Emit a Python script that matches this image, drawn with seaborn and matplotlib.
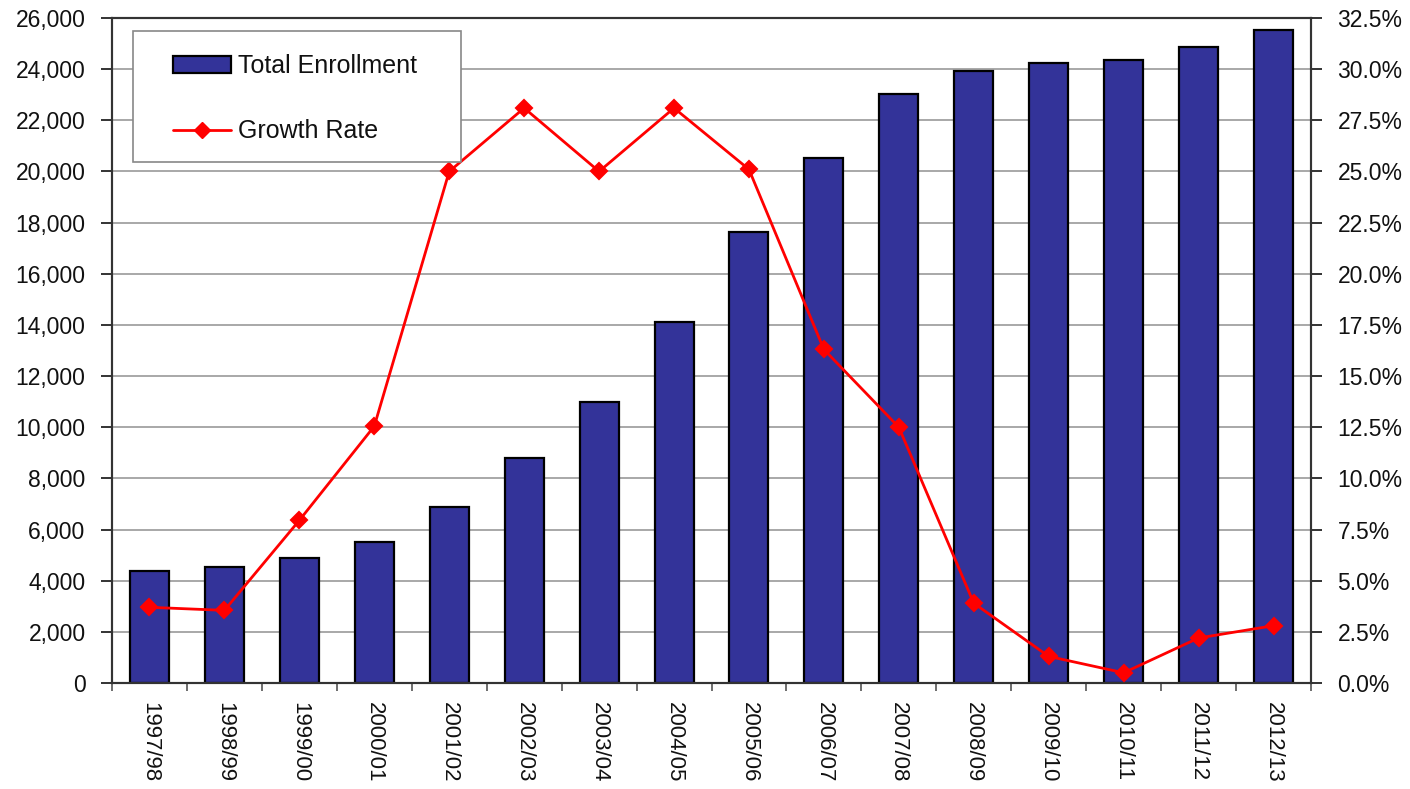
import matplotlib
matplotlib.use("Agg")
import matplotlib.pyplot as plt
import seaborn as sns
import pandas as pd
from matplotlib.ticker import FuncFormatter, MultipleLocator, FixedLocator
from matplotlib.lines import Line2D
from matplotlib.patches import Patch, Rectangle

years = ["1997/98", "1998/99", "1999/00", "2000/01", "2001/02", "2002/03", "2003/04", "2004/05",
         "2005/06", "2006/07", "2007/08", "2008/09", "2009/10", "2010/11", "2011/12", "2012/13"]
enrollment = [4380, 4530, 4900, 5500, 6880, 8800, 11000, 14100,
              17630, 20520, 23030, 23930, 24240, 24360, 24870, 25530]
growth_rate = [3.7, 3.55, 7.95, 12.55, 25.0, 28.1, 25.0, 28.1,
               25.1, 16.3, 12.5, 3.9, 1.3, 0.5, 2.2, 2.8]

sns.set_style("white")
plt.rcParams['font.family'] = ["Liberation Sans", 'DejaVu Sans']

df = pd.DataFrame({"year": years, "enrollment": enrollment, "growth": growth_rate})

W, H = 1410, 789
L, R, T, B = 112, 1311, 18, 683
fig = plt.figure(figsize=(W / 100, H / 100), dpi=100)
ax = fig.add_axes([L / W, 1 - B / H, (R - L) / W, (B - T) / H])

sns.barplot(data=df, x="year", y="enrollment", ax=ax, color="#333399", width=0.52,
            edgecolor="black", linewidth=1.6, saturation=1, zorder=2)
ax.set_ylim(0, 26000)
ax.set_xlim(-0.5, len(years) - 0.5)
ax.yaxis.set_major_locator(MultipleLocator(2000))
ax.yaxis.set_major_formatter(FuncFormatter(lambda v, p: f"{int(v):,}"))
ax.grid(axis="y", color="#999999", linewidth=1.2, zorder=0)
ax.set_axisbelow(True)
ax.set_xlabel("")
ax.set_ylabel("")
ax.set_xticks(range(len(years)))
ax.set_xticklabels(years, rotation=270, fontsize=16, color="#111111")
ax.tick_params(axis="x", length=0, pad=14)
ax.xaxis.set_minor_locator(FixedLocator([i - 0.5 for i in range(len(years) + 1)]))
ax.tick_params(axis="x", which="minor", length=6, width=1.2, direction="out", color="#555555", bottom=True)
ax.tick_params(axis="y", labelsize=16.5, length=8, width=1.2, pad=11, direction="out", left=True,
               colors="#111111")
for s in ax.spines.values():
    s.set_color("#333333")
    s.set_linewidth(1.5)

ax2 = ax.twinx()
sns.pointplot(data=df, x="year", y="growth", ax=ax2, color="#ff0000", markers="D",
              markersize=8, linewidth=2, zorder=3)
ax2.set_ylim(0, 32.5)
ax2.set_xlim(-0.5, len(years) - 0.5)
ax2.yaxis.set_major_locator(MultipleLocator(2.5))
ax2.yaxis.set_major_formatter(FuncFormatter(lambda v, p: f"{v:.1f}%"))
ax2.set_ylabel("")
ax2.set_xlabel("")
ax2.tick_params(axis="y", labelsize=16.5, length=8, width=1.2, pad=11, direction="out", right=True,
                colors="#111111")
for s in ax2.spines.values():
    s.set_color("#333333")
    s.set_linewidth(1.5)

# legend frame box
def ax_frac(px, py):
    return (px - L) / (R - L), 1 - (py - T) / (B - T)

x0, y1 = ax_frac(133, 31)
x1, y0 = ax_frac(461, 162)
ax2.add_patch(Rectangle((x0, y0), x1 - x0, y1 - y0, transform=ax2.transAxes,
                        facecolor="white", edgecolor="#888888", linewidth=1.2, zorder=4.5,
                        clip_on=False))

handles = [Patch(facecolor="#333399", edgecolor="black", linewidth=1.6),
           Line2D([0], [0], color="#ff0000", marker="D", markersize=8, linewidth=2)]
ax_, ay_ = ax_frac(173, 54)
leg = ax2.legend(handles, ["Total Enrollment", "Growth Rate"], loc="upper left",
                 bbox_to_anchor=(ax_, ay_), fontsize=18,
                 frameon=False, borderpad=0, labelspacing=1.65,
                 handlelength=2.3, handletextpad=0.28, borderaxespad=0)
leg.set_zorder(5)
for t in leg.get_texts():
    t.set_color("#111111")

fig.savefig("out.png", dpi=100)
